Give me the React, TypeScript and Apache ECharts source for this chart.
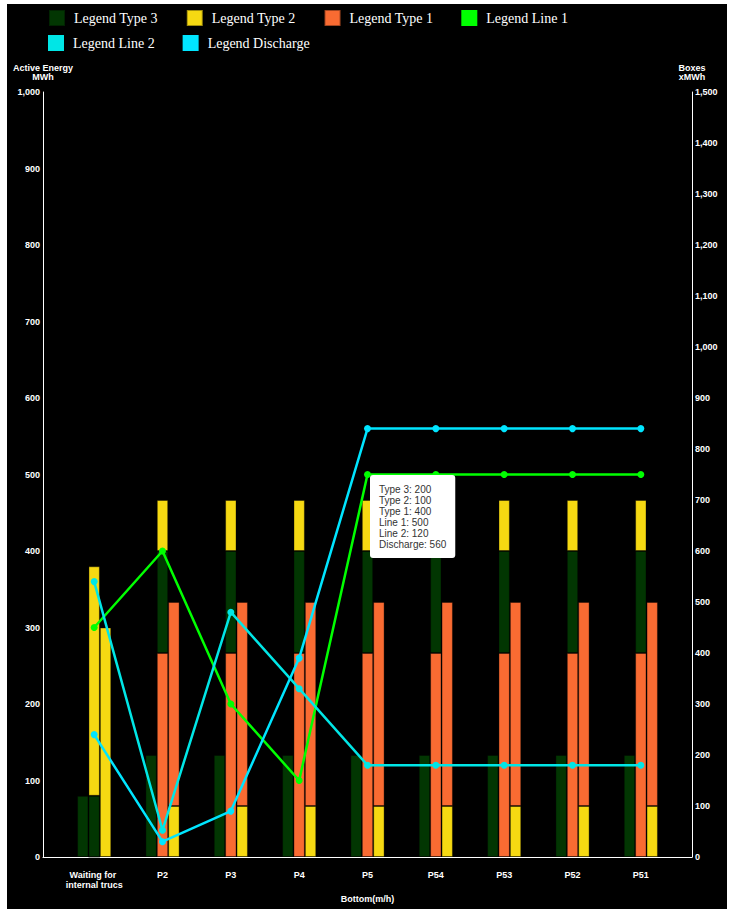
import React, { useEffect, useRef } from 'react';
import * as echarts from 'echarts';

// ---------- data ----------
const categories = ['Waiting for internal trucs', 'P2', 'P3', 'P4', 'P5', 'P54', 'P53', 'P52', 'P51'];

// stack A (left column)
const type3Single = [120, 200, 200, 200, 200, 200, 200, 200, 200];
// stack B (middle column): Type 1 bottom, Type 3, Type 2 top
const type1Lower = [0, 400, 400, 400, 400, 400, 400, 400, 400];
const type3Middle = [120, 200, 200, 200, 200, 200, 200, 200, 200];
const type2Upper = [450, 100, 100, 100, 100, 100, 100, 100, 100];
// stack C (right column): Type 2 bottom, Type 1 top
const type2Lower = [450, 100, 100, 100, 100, 100, 100, 100, 100];
const type1Upper = [0, 400, 400, 400, 400, 400, 400, 400, 400];

const line1 = [300, 400, 200, 100, 500, 500, 500, 500, 500];
const line2 = [360, 35, 320, 220, 120, 120, 120, 120, 120];
const discharge = [160, 20, 60, 260, 560, 560, 560, 560, 560];

const leftAxis = { min: 0, max: 1000, interval: 100 };
const rightAxis = { min: 0, max: 1500, interval: 100 };

const tipIndex = 4;

// ---------- styles ----------
const SANS = '"Liberation Sans", Arial, sans-serif';
const SERIF = '"Liberation Serif", "Times New Roman", serif';
const C_TYPE3 = '#023602';
const C_TYPE2 = '#f6d912';
const C_TYPE1 = '#f96b32';
const C_LINE1 = '#00ff00';
const C_LINE2 = '#00e6e6';
const C_DIS = '#00e5ff';

export default function App() {
  const ref = useRef<HTMLDivElement>(null);

  useEffect(() => {
    if (!ref.current) return;
    const chart = echarts.init(ref.current, null, { renderer: 'svg' });

    const axisText = { color: '#fff', fontSize: 9, fontWeight: 'bold', fontFamily: SANS };
    const legendCommon = {
      icon: 'rect',
      itemWidth: 16,
      itemHeight: 16,
      itemGap: 28,
      padding: 0,
      orient: 'horizontal',
      formatter: (n: string) => 'Legend ' + n,
      textStyle: { color: '#fff', fontSize: 14, fontFamily: SERIF, padding: [0, 0, 0, 4] },
    };

    const barBase = (name: string, stack: string, color: string, data: number[]) => ({
      name,
      type: 'bar',
      xAxisIndex: 0,
      yAxisIndex: 1,
      stack,
      data,
      barGap: '0%',
      barCategoryGap: '50%',
      itemStyle: { color, borderColor: 'rgba(0,0,0,0.35)', borderWidth: 1 },
    });

    const lineBase = (name: string, color: string, data: number[]) => ({
      name,
      type: 'line',
      xAxisIndex: 0,
      yAxisIndex: 0,
      data,
      symbol: 'circle',
      symbolSize: 7,
      color,
      lineStyle: { color, width: 2.5 },
      itemStyle: { color },
      z: 3,
    });

    const tipText = [
      `Type 3: ${type3Middle[tipIndex]}`,
      `Type 2: ${type2Upper[tipIndex]}`,
      `Type 1: ${type1Lower[tipIndex]}`,
      `Line 1: ${line1[tipIndex]}`,
      `Line 2: ${line2[tipIndex]}`,
      `Discharge: ${discharge[tipIndex]}`,
    ].join('\n');

    const option: any = {
      backgroundColor: '#000',
      animation: false,
      legend: [
        { ...legendCommon, left: 41, top: 5, data: ['Type 3', 'Type 2', 'Type 1', 'Line 1'] },
        { ...legendCommon, left: 41, top: 31, data: ['Line 2', 'Discharge'] },
      ],
      grid: [
        { left: 53, right: 52, top: 88, bottom: 52 },
        { left: 36, right: 35, top: 88, bottom: 52 },
      ],
      xAxis: [
        {
          type: 'category',
          gridIndex: 0,
          data: categories,
          axisLine: { show: false },
          axisTick: { show: false },
          splitLine: { show: false },
          axisLabel: { ...axisText, interval: 0, margin: 13, width: 64, overflow: 'break', lineHeight: 10 },
        },
        {
          type: 'value',
          gridIndex: 1,
          min: 0,
          max: 1,
          axisLine: { show: true, lineStyle: { color: '#fff', width: 1 } },
          axisTick: { show: false },
          axisLabel: { show: false },
          splitLine: { show: false },
          name: 'Bottom(m/h)',
          nameLocation: 'middle',
          nameGap: 37,
          nameTextStyle: axisText,
        },
      ],
      yAxis: [
        {
          type: 'value',
          gridIndex: 0,
          position: 'left',
          offset: 17,
          ...leftAxis,
          name: 'Active Energy\nMWh',
          nameLocation: 'end',
          nameGap: 11,
          nameTextStyle: { ...axisText, lineHeight: 9, align: 'center' },
          axisLine: { show: true, lineStyle: { color: '#fff', width: 1 } },
          axisTick: { show: false },
          splitLine: { show: false },
          axisLabel: { ...axisText, margin: 3 },
        },
        {
          type: 'value',
          gridIndex: 0,
          position: 'right',
          offset: 17,
          ...rightAxis,
          name: 'Boxes\nxMWh',
          nameLocation: 'end',
          nameGap: 11,
          nameTextStyle: { ...axisText, lineHeight: 9, align: 'center' },
          axisLine: { show: true, lineStyle: { color: '#fff', width: 1 } },
          axisTick: { show: false },
          splitLine: { show: false },
          axisLabel: { ...axisText, margin: 3 },
        },
        { type: 'value', gridIndex: 1, show: false, min: 0, max: 1 },
      ],
      series: [
        barBase('Type 3', 'A', C_TYPE3, type3Single),
        barBase('Type 1', 'B', C_TYPE1, type1Lower),
        barBase('Type 3', 'B', C_TYPE3, type3Middle),
        barBase('Type 2', 'B', C_TYPE2, type2Upper),
        barBase('Type 2', 'C', C_TYPE2, type2Lower),
        barBase('Type 1', 'C', C_TYPE1, type1Upper),
        lineBase('Line 1', C_LINE1, line1),
        lineBase('Line 2', C_LINE2, line2),
        lineBase('Discharge', C_DIS, discharge),
      ],
      graphic: [
        {
          type: 'text',
          left: 363,
          top: 471,
          z: 100,
          style: {
            text: tipText,
            fill: '#333',
            fontSize: 10,
            fontFamily: SANS,
            lineHeight: 11,
            backgroundColor: '#fff',
            padding: [9, 9, 8, 9],
            borderRadius: 3,
          },
        },
      ],
    };

    chart.setOption(option);
    return () => chart.dispose();
  }, []);

  return (
    <div style={{ position: 'absolute', left: 7, top: 4, width: 720, height: 905, background: '#000' }}>
      <div ref={ref} style={{ width: 720, height: 905 }} />
    </div>
  );
}
